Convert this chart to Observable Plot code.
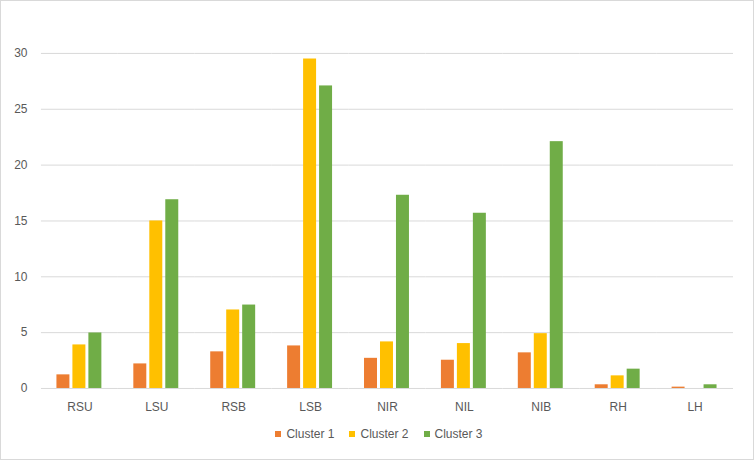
<!DOCTYPE html>
<html>
<head>
<meta charset="utf-8">
<script src="https://cdn.jsdelivr.net/npm/d3@7"></script>
<script src="https://cdn.jsdelivr.net/npm/@observablehq/plot@0.6"></script>
<style>
  html, body { margin: 0; padding: 0; background: #fff; }
  #frame { position: relative; width: 754px; height: 460px; box-sizing: border-box; border: 1px solid #d9d9d9; overflow: hidden; font-family: "Liberation Sans", Arial, sans-serif; }
  #chart { position: absolute; left: -1px; top: -1px; }
  #legend { position: absolute; left: 0; right: 0; top: 426px; display: flex; justify-content: center; gap: 15px; font-size: 12px; color: #595959; padding-left: 4px; }
  .item { display: flex; align-items: center; gap: 5px; }
  .sw { width: 6px; height: 6px; display: inline-block; }
</style>
</head>
<body>
<div id="frame">
  <div id="chart"></div>
  <div id="legend"></div>
</div>
<script>
const categories = ["RSU", "LSU", "RSB", "LSB", "NIR", "NIL", "NIB", "RH", "LH"];
const series = ["Cluster 1", "Cluster 2", "Cluster 3"];
const cluster1 = [1.22, 2.2, 3.28, 3.81, 2.7, 2.53, 3.19, 0.33, 0.12];
const cluster2 = [3.9, 15.0, 7.03, 29.5, 4.17, 4.02, 4.91, 1.13, 0];
const cluster3 = [4.97, 16.9, 7.47, 27.09, 17.3, 15.69, 22.1, 1.73, 0.33];
const colors = ["#ED7D31", "#FFC000", "#70AD47"];
const yTicks = [0, 5, 10, 15, 20, 25, 30];

const values = [cluster1, cluster2, cluster3];
const rows = categories.flatMap((c, i) => series.map((s, j) => ({cat: c, series: s, value: values[j][i]})));

const chart = Plot.plot({
  width: 754,
  height: 420,
  marginLeft: 39.5,
  marginRight: 17.7,
  marginTop: 53,
  marginBottom: 31.5,
  style: {fontFamily: "'Liberation Sans', Arial, sans-serif", fontSize: "12px", color: "#595959", background: "transparent"},
  facet: {data: rows, x: "cat"},
  fx: {domain: categories, padding: 0, label: null, tickSize: 0, tickPadding: 14, axis: "bottom"},
  x: {domain: series, axis: null, paddingInner: 0.18, paddingOuter: 0.86},
  y: {domain: [0, 30], ticks: yTicks, tickSize: 0, tickPadding: 14, label: null},
  color: {domain: series, range: colors},
  marks: [
    Plot.ruleY(yTicks, {stroke: "#d9d9d9", strokeWidth: 1}),
    Plot.barY(rows, {x: "series", y: "value", fill: "series"})
  ]
});
document.getElementById("chart").appendChild(chart);

const legend = document.getElementById("legend");
series.forEach((s, i) => {
  const item = document.createElement("div");
  item.className = "item";
  const sw = document.createElement("span");
  sw.className = "sw";
  sw.style.background = colors[i];
  const t = document.createElement("span");
  t.textContent = s;
  item.appendChild(sw);
  item.appendChild(t);
  legend.appendChild(item);
});
</script>
</body>
</html>
